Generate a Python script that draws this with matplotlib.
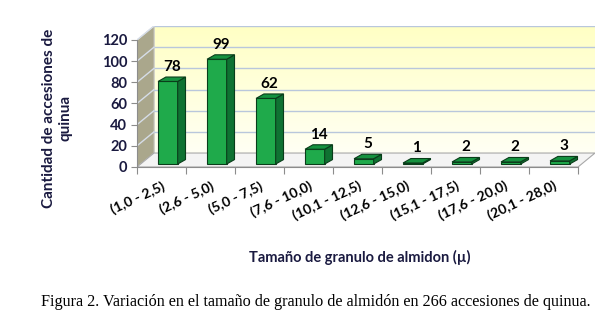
import matplotlib.pyplot as plt
from matplotlib.patches import Polygon
from matplotlib.colors import LinearSegmentedColormap
import numpy as np

categories = ["(1,0 - 2,5)", "(2,6 - 5,0)", "(5,0 - 7,5)", "(7,6 - 10,0)", "(10,1 - 12,5)",
              "(12,6 - 15,0)", "(15,1 - 17,5)", "(17,6 - 20,0)", "(20,1 - 28,0)"]
counts = [78, 99, 62, 14, 5, 1, 2, 2, 3]
yticks = [0, 20, 40, 60, 80, 100, 120]

n = len(categories)
ymax = 120
# depth of the fake 3d box, in data units (x: categories, y: counts)
dx, dy = 0.347, 13.2
# bar placement inside the depth
bx0, by0 = 0.06, 2.8
bdx, bdy = 0.16, 4.2
bar_left, bar_w = 0.37, 0.40

W, H = 613, 329
fig = plt.figure(figsize=(W / 100, H / 100), dpi=100)
ax = fig.add_axes([137 / W, (H - 167) / H, (595 - 137) / W, (167 - 26) / H])
ax.set_xlim(0, n + dx)
ax.set_ylim(0, ymax + dy)

font = "Lato"
navy = "#1a1a40"

# back wall with a soft gradient
grad = np.linspace(0, 1, 100).reshape(-1, 1)
cmap = LinearSegmentedColormap.from_list("wall", ["#fffff4", "#ffffc4"])
ax.imshow(grad, extent=[dx, n + dx, dy, ymax + dy], origin="lower", cmap=cmap,
          aspect="auto", zorder=0)
ax.add_patch(Polygon([(dx, dy), (n + dx, dy), (n + dx, ymax + dy), (dx, ymax + dy)],
                     closed=True, fill=False, ec="#d8d8c8", lw=0.6, zorder=1))
# side wall
ax.add_patch(Polygon([(0, 0), (dx, dy), (dx, ymax + dy), (0, ymax)], closed=True,
                     fc="#aaa78c", ec="#c8c8c8", lw=0.6, zorder=1))
# floor
ax.add_patch(Polygon([(0, 0), (n, 0), (n + dx, dy), (dx, dy)], closed=True,
                     fc="#f4f4f4", ec="#a8a8a8", lw=0.8, zorder=1))

# gridlines on back wall and side wall
for t in yticks[1:]:
    ax.plot([dx, n + dx], [t + dy, t + dy], color="#b9c7dc", lw=1.0, zorder=2)
    ax.plot([0, dx], [t, t + dy], color="#d6dde8", lw=1.0, zorder=2)

# bars
front, side, top, edge = "#1faa4b", "#0f7232", "#15923f", "#0a3d1a"
for i, v in enumerate(counts):
    x0 = i + bar_left + bx0
    x1 = x0 + bar_w
    y0 = by0
    y1 = by0 + v
    ax.add_patch(Polygon([(x0, y0), (x1, y0), (x1, y1), (x0, y1)], closed=True,
                         fc=front, ec=edge, lw=0.8, zorder=4))
    ax.add_patch(Polygon([(x1, y0), (x1 + bdx, y0 + bdy), (x1 + bdx, y1 + bdy), (x1, y1)],
                         closed=True, fc=side, ec=edge, lw=0.8, zorder=4))
    ax.add_patch(Polygon([(x0, y1), (x1, y1), (x1 + bdx, y1 + bdy), (x0 + bdx, y1 + bdy)],
                         closed=True, fc=top, ec=edge, lw=0.8, zorder=4))
    ax.text((x0 + x1 + bdx) / 2, y1 + bdy + 3, str(v), ha="center", va="bottom",
            fontsize=11, fontweight="bold", family=font, color="black", zorder=5)

# axes
for s in ["top", "right"]:
    ax.spines[s].set_visible(False)
ax.spines["left"].set_bounds(0, ymax)
ax.spines["bottom"].set_bounds(0, n)
ax.spines["left"].set_color("#8c8c8c")
ax.spines["bottom"].set_color("#8c8c8c")
ax.set_yticks(yticks)
ax.set_yticklabels([str(t) for t in yticks], fontsize=10.5, fontweight="bold",
                   family=font, color=navy)
ax.tick_params(axis="y", length=4, color="#8c8c8c", pad=3)
ax.set_xticks(range(n + 1))
ax.set_xticklabels([])
ax.tick_params(axis="x", which="major", length=5, color="#8c8c8c")
ax.set_xticks([i + 0.5 for i in range(n)], minor=True)
ax.set_xticklabels(categories, minor=True, rotation=25, ha="right",
                   rotation_mode="anchor", fontsize=10, fontweight="bold",
                   family=font, color="black")
ax.tick_params(axis="x", which="minor", length=0, pad=9)

fig.text(57 / W, 1 - 118 / H, "Cantidad de accesiones de\nquinua", rotation=90,
         ha="center", va="center", fontsize=11, fontweight="bold", family=font,
         color=navy, linespacing=1.25)
fig.text(360 / W, 1 - 257 / H, "Tamaño de granulo de almidon (µ)", ha="center",
         va="center", fontsize=10.5, fontweight="bold", family=font, color=navy)
fig.text(316 / W, 1 - 302 / H,
         "Figura 2. Variación en el tamaño de granulo de almidón en 266 accesiones de quinua.",
         ha="center", va="center", fontsize=11.6, family="Liberation Serif", color="black")

fig.savefig("out.png", dpi=100)
